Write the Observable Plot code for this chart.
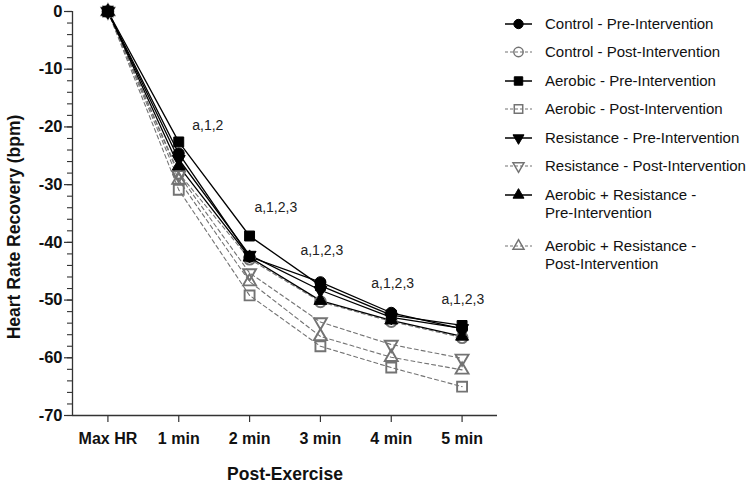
<!DOCTYPE html>
<html><head><meta charset="utf-8">
<script src="https://cdn.jsdelivr.net/npm/d3@7"></script>
<script src="https://cdn.jsdelivr.net/npm/@observablehq/plot@0.6"></script>
<style>
body{margin:0;background:#fff;font-family:"Liberation Sans",Arial,Helvetica,sans-serif;}
#wrap{position:relative;width:754px;height:485px;overflow:hidden;}
#chart{position:absolute;left:0;top:0;}
#legend{position:absolute;left:500px;top:0;}
</style></head><body>
<div id="wrap"><div id="chart"></div><svg id="legend" width="254" height="300"></svg></div>
<script>
// ---- data ----
const timepoints = ["Max HR", "1 min", "2 min", "3 min", "4 min", "5 min"];
const yTickValues = [0, -10, -20, -30, -40, -50, -60, -70];
const seriesNames = [
  "Control - Pre-Intervention",
  "Control - Post-Intervention",
  "Aerobic - Pre-Intervention",
  "Aerobic - Post-Intervention",
  "Resistance - Pre-Intervention",
  "Resistance - Post-Intervention",
  "Aerobic + Resistance - Pre-Intervention",
  "Aerobic + Resistance - Post-Intervention"
];
const legendLines = [
  ["Control - Pre-Intervention"],
  ["Control - Post-Intervention"],
  ["Aerobic - Pre-Intervention"],
  ["Aerobic - Post-Intervention"],
  ["Resistance - Pre-Intervention"],
  ["Resistance - Post-Intervention"],
  ["Aerobic + Resistance -", "Pre-Intervention"],
  ["Aerobic + Resistance -", "Post-Intervention"]
];
const controlPre       = [0, -24.6, -42.5, -46.9, -52.2, -55.0];
const controlPost      = [0, -28.0, -42.9, -50.3, -53.7, -56.5];
const aerobicPre       = [0, -22.6, -38.9, -47.5, -52.6, -54.4];
const aerobicPost      = [0, -30.9, -49.2, -58.0, -61.7, -65.0];
const resistancePre    = [0, -25.6, -42.2, -48.3, -53.0, -54.9];
const resistancePost   = [0, -28.3, -45.3, -53.8, -57.7, -60.1];
const aerobicResPre    = [0, -26.8, -42.6, -50.1, -53.5, -56.3];
const aerobicResPost   = [0, -29.2, -46.8, -56.3, -59.9, -62.1];
const annotationLabels = ["a,1,2", "a,1,2,3", "a,1,2,3", "a,1,2,3", "a,1,2,3"];
const annotationX = [1.41, 2.37, 3.02, 4.02, 5.01];
const annotationY = [-19.8, -34.0, -41.4, -47.1, -49.9];

// ---- styles ----
const sqrt3 = Math.sqrt(3);
const triangleDown = {
  draw(context, size) {
    const y = -Math.sqrt(size / (sqrt3 * 3));
    context.moveTo(0, -y * 2);
    context.lineTo(-sqrt3 * y, y);
    context.lineTo(sqrt3 * y, y);
    context.closePath();
  }
};
const allValues = [controlPre, controlPost, aerobicPre, aerobicPost, resistancePre, resistancePost, aerobicResPre, aerobicResPost];
const symbols = ["circle", "circle", "square", "square", triangleDown, triangleDown, "triangle", "triangle"];
const radii = [5.5, 5.5, 5.6, 5.6, 4.8, 4.8, 4.8, 4.8];
const GRAY = "#737373";

const series = allValues.map((vals, i) => ({
  name: seriesNames[i],
  post: i % 2 === 1,
  symbol: symbols[i],
  r: radii[i],
  data: vals.map((v, j) => ({t: j, v}))
}));

const marks = [];
const order = [...series.filter(s => s.post), ...series.filter(s => !s.post)];
for (const s of order) {
  marks.push(Plot.line(s.data, {
    x: "t", y: "v",
    stroke: s.post ? GRAY : "#000",
    strokeWidth: s.post ? 1.1 : 1.3,
    strokeDasharray: s.post ? "4,3" : null
  }));
}
for (const s of order) {
  marks.push(Plot.dot(s.data, {
    x: "t", y: "v", r: s.r, symbol: s.symbol,
    fill: s.post ? "none" : "#000",
    stroke: s.post ? GRAY : "#000",
    strokeWidth: s.post ? 1.9 : 1
  }));
}

const annotations = annotationLabels.map((label, i) => ({label, x: annotationX[i], y: annotationY[i]}));

const plot = Plot.plot({
  width: 500,
  height: 485,
  marginLeft: 72,
  marginRight: 3,
  marginTop: 11,
  marginBottom: 70,
  style: {fontFamily: "'Liberation Sans', Arial, sans-serif", background: "#fff", color: "#111"},
  x: {domain: [-0.5, 5.5]},
  y: {domain: [-70, 0]},
  marks: [
    Plot.ruleX([-0.5], {y1: 0, y2: -70, stroke: "#333", strokeWidth: 1.3}),
    Plot.ruleY([-70], {x1: -0.5, x2: 5.5, stroke: "#333", strokeWidth: 1.3}),
    Plot.axisY({ticks: d3.range(0, -71, -2), tickSize: 5, text: null, stroke: "#333", strokeWidth: 1.1, label: null}),
    Plot.axisY({ticks: yTickValues, tickSize: 8, text: null, stroke: "#333", strokeWidth: 1.2, label: null}),
    Plot.text(yTickValues, {x: -0.5, y: d => d, dx: -10, textAnchor: "end",
      text: d => d === 0 ? "0" : "-" + Math.abs(d),
      fontSize: 16.5, fontWeight: "bold", fill: "#111"}),
    Plot.axisX({ticks: d3.range(timepoints.length), tickSize: 7, text: null, stroke: "#333", strokeWidth: 1.2, label: null}),
    Plot.text(timepoints, {x: (d, i) => i, y: -70, dy: 23, text: d => d,
      fontSize: 16, fontWeight: "bold", fill: "#111"}),
    ...marks,
    Plot.text(annotations, {x: "x", y: "y", text: "label", fontSize: 14, fill: "#222"})
  ]
});
document.getElementById("chart").appendChild(plot);

const svg = d3.select(plot);
svg.append("text")
  .attr("transform", "translate(15,227) rotate(-90)")
  .attr("text-anchor", "middle")
  .attr("dominant-baseline", "middle")
  .attr("font-size", 17.5).attr("font-weight", "bold").attr("fill", "#111")
  .text("Heart Rate Recovery (bpm)");
svg.append("text")
  .attr("x", 285).attr("y", 475)
  .attr("text-anchor", "middle")
  .attr("dominant-baseline", "middle")
  .attr("font-size", 17.5).attr("font-weight", "bold").attr("fill", "#111")
  .text("Post-Exercise");

// legend
const legend = d3.select("#legend");
const rowY = [24, 52, 81, 109, 138, 166, 195, 246];
series.forEach((s, i) => {
  const g = legend.append("g").attr("transform", `translate(0,${rowY[i]})`);
  g.append("line").attr("x1", 5).attr("x2", 32).attr("y1", 0).attr("y2", 0)
    .attr("stroke", s.post ? GRAY : "#000").attr("stroke-width", s.post ? 1.1 : 1.5)
    .attr("stroke-dasharray", s.post ? "3,2" : null);
  const symType = s.symbol === "circle" ? d3.symbolCircle : s.symbol === "square" ? d3.symbolSquare
    : s.symbol === "triangle" ? d3.symbolTriangle : triangleDown;
  const rr = s.r * 0.85;
  g.append("path").attr("transform", "translate(18.5,0)")
    .attr("d", d3.symbol(symType, Math.PI * rr * rr)())
    .attr("fill", s.post ? "none" : "#000")
    .attr("stroke", s.post ? GRAY : "#000")
    .attr("stroke-width", s.post ? 1.5 : 1);
  legendLines[i].forEach((line, k) => {
    g.append("text").attr("x", 45).attr("y", k * 18).attr("dy", "0.35em")
      .attr("font-size", 15).attr("fill", "#111").text(line);
  });
});
</script>
</body></html>
